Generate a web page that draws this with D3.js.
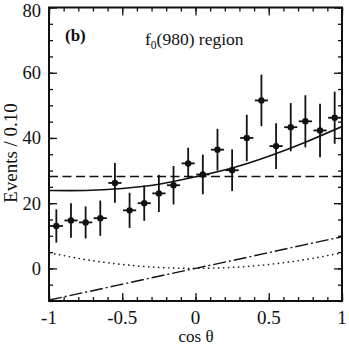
<!DOCTYPE html>
<html>
<head>
<meta charset="utf-8">
<script src="https://cdn.jsdelivr.net/npm/d3@7"></script>
<style>
  body { margin: 0; background: #fff; }
  svg { display: block; font-family: "Liberation Serif", "DejaVu Serif", serif; }
</style>
</head>
<body>
<script>
// DATA
const binCenters = [-0.95, -0.85, -0.75, -0.65, -0.55, -0.45, -0.35, -0.25, -0.15, -0.05,
                    0.05, 0.15, 0.25, 0.35, 0.45, 0.55, 0.65, 0.75, 0.85, 0.95];
const events = [13.0, 14.7, 14.1, 15.4, 26.2, 17.8, 20.0, 23.0, 25.5, 32.2,
                28.8, 36.4, 30.1, 40.0, 51.5, 37.5, 43.3, 45.1, 42.3, 46.2];
const errors = [5.1, 5.3, 4.9, 5.4, 6.1, 5.4, 5.4, 5.7, 5.9, 4.8,
                6.1, 6.4, 6.4, 7.1, 7.9, 7.0, 7.4, 8.0, 8.2, 8.0];
const binHalf = 0.045;

const curveX = [-1, -0.75, -0.5, -0.25, 0, 0.25, 0.5, 0.75, 1];
const totalFit = [23.9, 23.9, 24.5, 25.8, 28.1, 30.8, 34.4, 38.7, 43.5];
const flatPart = [28.2, 28.2, 28.2, 28.2, 28.2, 28.2, 28.2, 28.2, 28.2];
const interfPart = [-9.7, -7.3, -4.85, -2.4, 0, 2.4, 4.85, 7.3, 9.7];
const quadPart = [4.8, 2.7, 1.2, 0.3, 0, 0.3, 1.2, 2.7, 4.8];

const xTicks = [-1, -0.5, 0, 0.5, 1];
const xTickLabels = ['-1', '-0.5', '0', '0.5', '1'];
const yTicks = [0, 20, 40, 60, 80];

// LAYOUT
const WIDTH = 349, HEIGHT = 346;
const LEFT = 49, RIGHT = 342, TOP = 7.5, BOTTOM = 301;
const INK = '#111';

const x = d3.scaleLinear().domain([-1, 1]).range([LEFT, RIGHT]);
const y = d3.scaleLinear().domain([-10, 80]).range([BOTTOM, TOP]);

const svg = d3.select('body').append('svg')
  .attr('width', WIDTH)
  .attr('height', HEIGHT);

const plot = svg.append('g');

// curves
const pts = (vals) => curveX.map((c, i) => [c, vals[i]]);
const line = d3.line().x(d => x(d[0])).y(d => y(d[1])).curve(d3.curveNatural);

plot.append('clipPath').attr('id', 'clip')
  .append('rect').attr('x', LEFT).attr('y', TOP).attr('width', RIGHT - LEFT).attr('height', BOTTOM - TOP);

const curves = plot.append('g').attr('clip-path', 'url(#clip)')
  .attr('fill', 'none').attr('stroke', INK);

curves.append('path').attr('d', line(pts(flatPart)))
  .attr('stroke-width', 1.6).attr('stroke-dasharray', '9,4.5');
curves.append('path').attr('d', line(pts(interfPart)))
  .attr('stroke-width', 1.4).attr('stroke-dasharray', '13,3,2,3');
curves.append('path').attr('d', line(pts(quadPart)))
  .attr('stroke-width', 1.4).attr('stroke-dasharray', '1.5,3.5');
curves.append('path').attr('d', line(pts(totalFit)))
  .attr('stroke-width', 1.6);

// data points
const pointG = plot.append('g').attr('stroke', INK).attr('stroke-width', 1.8);
binCenters.forEach((c, i) => {
  pointG.append('line')
    .attr('x1', x(c)).attr('x2', x(c))
    .attr('y1', y(events[i] - errors[i])).attr('y2', y(events[i] + errors[i]));
  pointG.append('line')
    .attr('x1', x(c - binHalf)).attr('x2', x(c + binHalf))
    .attr('y1', y(events[i])).attr('y2', y(events[i]));
  pointG.append('circle')
    .attr('cx', x(c)).attr('cy', y(events[i])).attr('r', 3.2)
    .attr('fill', INK).attr('stroke', 'none');
});

// AXES (ticks inward on all four sides)
const xMinor = d3.range(-10, 11).map(d => d / 10);
const yMinor = d3.range(-10, 81, 5);

function styleAxis(g) {
  g.selectAll('.domain').remove();
  g.selectAll('line').attr('stroke', INK).attr('stroke-width', 1.3);
}

function addTicks(axisFn, transform, values, size) {
  svg.append('g').attr('transform', transform)
    .call(axisFn.tickValues(values).tickSize(size).tickFormat(''))
    .call(styleAxis);
}

addTicks(d3.axisTop(x), `translate(0,${BOTTOM})`, xMinor, 4);
addTicks(d3.axisTop(x), `translate(0,${BOTTOM})`, xTicks, 8);
addTicks(d3.axisBottom(x), `translate(0,${TOP})`, xMinor, 4);
addTicks(d3.axisBottom(x), `translate(0,${TOP})`, xTicks, 8);
addTicks(d3.axisRight(y), `translate(${LEFT},0)`, yMinor, 4);
addTicks(d3.axisRight(y), `translate(${LEFT},0)`, yTicks, 8);
addTicks(d3.axisLeft(y), `translate(${RIGHT},0)`, yMinor, 4);
addTicks(d3.axisLeft(y), `translate(${RIGHT},0)`, yTicks, 8);

// frame
svg.append('rect')
  .attr('x', LEFT).attr('y', TOP).attr('width', RIGHT - LEFT).attr('height', BOTTOM - TOP)
  .attr('fill', 'none').attr('stroke', INK).attr('stroke-width', 2);

// tick labels
svg.append('g').selectAll('text').data(xTicks).enter().append('text')
  .attr('x', d => x(d)).attr('y', 324)
  .attr('text-anchor', 'middle')
  .attr('font-size', 19)
  .attr('fill', INK)
  .text((d, i) => xTickLabels[i]);

svg.append('g').selectAll('text').data(yTicks).enter().append('text')
  .attr('x', 41).attr('y', d => y(d) + 6.5)
  .attr('dy', d => d === 80 ? 2.5 : 0)
  .attr('text-anchor', 'end')
  .attr('font-size', 18.5)
  .attr('fill', INK)
  .text(d => d);

// axis titles
svg.append('text')
  .attr('x', 196).attr('y', 342)
  .attr('text-anchor', 'middle').attr('font-size', 17).attr('fill', INK)
  .text('cos θ');

svg.append('text')
  .attr('transform', `translate(17,153) rotate(-90)`)
  .attr('text-anchor', 'middle').attr('font-size', 19).attr('fill', INK)
  .text('Events / 0.10');

// labels
svg.append('text')
  .attr('x', 65).attr('y', 41)
  .attr('font-size', 17).attr('font-weight', 'bold').attr('fill', INK)
  .text('(b)');

const title = svg.append('text')
  .attr('x', 145).attr('y', 44.5)
  .attr('font-size', 17.5).attr('fill', INK);
title.append('tspan').text('f');
title.append('tspan').attr('font-size', 11.5).attr('dy', 4.5).text('0');
title.append('tspan').attr('dy', -4.5).text('(980) region');
</script>
</body>
</html>
